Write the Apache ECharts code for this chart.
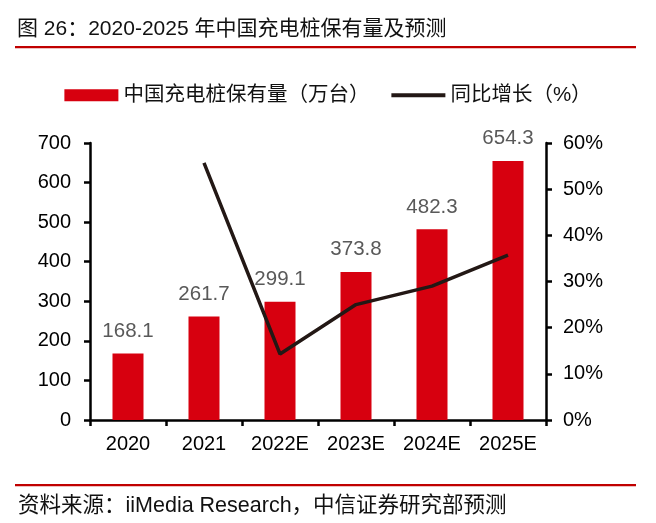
<!DOCTYPE html>
<html><head><meta charset="utf-8">
<script src="https://cdn.jsdelivr.net/npm/echarts@6/dist/echarts.min.js"></script>
<style>html,body{margin:0;padding:0;background:#fff}#c{width:656px;height:523px}</style>
</head><body><div id="c"></div>
<script>
var categories = ['2020','2021','2022E','2023E','2024E','2025E'];
var stock = [168.1, 261.7, 299.1, 373.8, 482.3, 654.3];
var growth = [null, 55.7, 14.3, 25.0, 29.0, 35.7];
var leftTicks = [0,100,200,300,400,500,600,700];
var rightTicks = [0,10,20,30,40,50,60];

var FF = '"Liberation Sans", Arial, "Noto Sans CJK SC", sans-serif';
var chart = echarts.init(document.getElementById('c'), null, {renderer:'canvas'});
chart.setOption({
  animation:false,
  textStyle:{fontFamily:FF},
  graphic:[
    {type:'text', left:17, top:19, style:{text:'图 26：2020-2025 年中国充电桩保有量及预测', font:'21px '+FF, fill:'#111'}},
    {type:'rect', shape:{x:15,y:46,width:621,height:2.2}, style:{fill:'#c00000'}},
    {type:'rect', shape:{x:15,y:484,width:621,height:2.2}, style:{fill:'#c00000'}},
    {type:'text', left:18, top:495, style:{text:'资料来源：iiMedia Research，中信证券研究部预测', font:'21.5px '+FF, fill:'#111'}}
  ],
  legend:{
    top:80, left:'center', itemGap:20, itemWidth:54, itemHeight:12,
    textStyle:{fontSize:20.5, color:'#111', fontFamily:FF},
    data:[{name:'中国充电桩保有量（万台）', icon:'rect'},
          {name:'同比增长（%）', itemStyle:{opacity:0}, lineStyle:{width:4, color:'#231815'}}]
  },
  grid:{left:90, right:110, top:143, bottom:103, containLabel:false},
  xAxis:{
    type:'category', data:categories,
    axisLine:{lineStyle:{color:'#000', width:2.5}},
    axisTick:{show:true, length:6, lineStyle:{color:'#000', width:2.5}},
    axisLabel:{fontSize:20, color:'#000', margin:14, fontFamily:FF}
  },
  yAxis:[
    {type:'value', min:0, max:700, interval:100,
     axisLine:{show:true, lineStyle:{color:'#000', width:2.5}},
     axisTick:{show:true, length:6, lineStyle:{color:'#000', width:2.5}},
     axisLabel:{fontSize:20, color:'#000', margin:19, fontFamily:FF},
     splitLine:{show:false}},
    {type:'value', min:0, max:60, interval:10,
     axisLine:{show:true, lineStyle:{color:'#000', width:2.5}},
     axisTick:{show:true, length:6, lineStyle:{color:'#000', width:2.5}},
     axisLabel:{fontSize:20, color:'#000', margin:17, formatter:'{value}%', fontFamily:FF},
     splitLine:{show:false}}
  ],
  series:[
    {name:'中国充电桩保有量（万台）', type:'bar', data:stock, barWidth:31,
     itemStyle:{color:'#d7000f'},
     label:{show:true, position:'top', distance:12, fontSize:20.5, color:'#595959', fontFamily:FF,
            formatter:function(p){return p.value.toFixed(1);}}},
    {name:'同比增长（%）', type:'line', yAxisIndex:1, data:growth, symbol:'none',
     lineStyle:{color:'#231815', width:3.5}, itemStyle:{color:'#231815'}}
  ]
});
</script></body></html>
